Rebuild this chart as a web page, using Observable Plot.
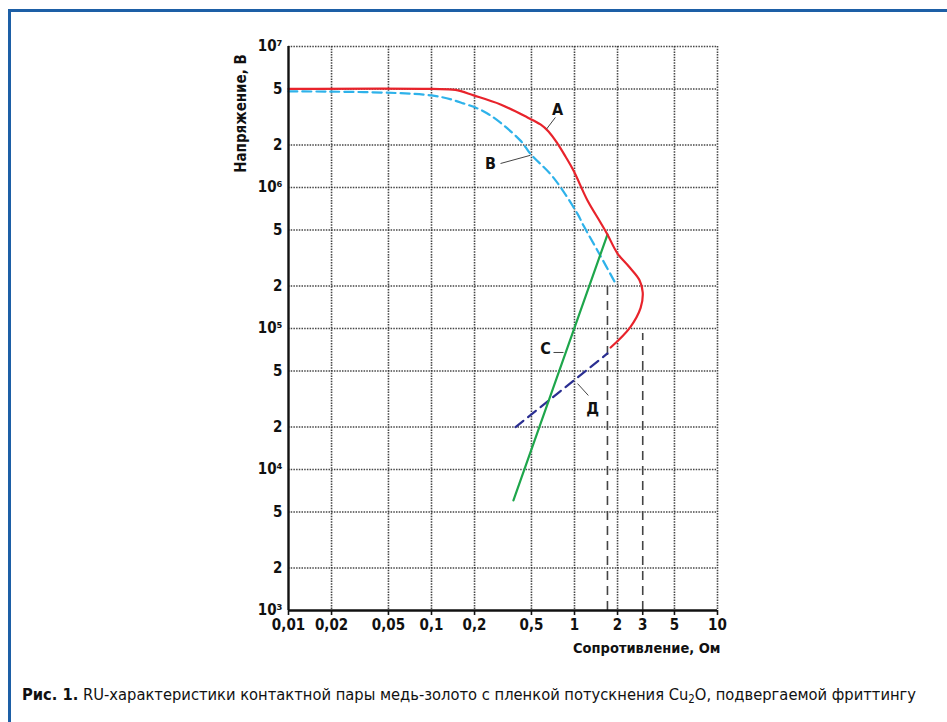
<!DOCTYPE html>
<html>
<head>
<meta charset="utf-8">
<script src="https://cdn.jsdelivr.net/npm/d3@7"></script>
<script src="https://cdn.jsdelivr.net/npm/@observablehq/plot@0.6"></script>
<style>
  html, body { margin: 0; padding: 0; background: #fff; }
  #wrap { position: relative; width: 947px; height: 722px; overflow: hidden; background: #fff; }
  #frameTop { position: absolute; left: 8px; top: 9px; width: 939px; height: 3px; background: #1d5fa6; }
  #frameLeft { position: absolute; left: 8px; top: 9px; width: 3px; height: 713px; background: #1d5fa6; }
  #chart { position: absolute; left: 0; top: 0; }
  #caption { position: absolute; left: 22px; top: 683px; white-space: nowrap;
    font-family: "Liberation Sans Narrow", "DejaVu Sans Condensed", "Roboto Condensed", "Open Sans", sans-serif;
    font-size: 17px; color: #111; }
  #caption b { font-weight: 700; }
</style>
</head>
<body>
<div id="wrap">
  <div id="frameTop"></div>
  <div id="frameLeft"></div>
  <div id="chart"></div>
  <div id="caption"><b>Рис. 1.</b> RU-характеристики контактной пары медь-золото с пленкой потускнения Cu<sub style="font-size:0.7em;vertical-align:-0.25em">2</sub>O, подвергаемой фриттингу</div>
</div>
<script>
// ---- axis ticks ----
const xTicks = [0.01, 0.02, 0.05, 0.1, 0.2, 0.5, 1, 2, 3, 5, 10];
const xTickLabels = ["0,01", "0,02", "0,05", "0,1", "0,2", "0,5", "1", "2", "3", "5", "10"];
const xGrid = [0.02, 0.05, 0.1, 0.2, 0.5, 1, 2, 5, 10];
const yTicks = [1e3, 2e3, 5e3, 1e4, 2e4, 5e4, 1e5, 2e5, 5e5, 1e6, 2e6, 5e6, 1e7];
const yTickLabels = ["10³", "2", "5", "10⁴", "2", "5", "10⁵", "2", "5", "10⁶", "2", "5", "10⁷"];
const yGrid = [2e3, 5e3, 1e4, 2e4, 5e4, 1e5, 2e5, 5e5, 1e6, 2e6, 5e6, 1e7];

// ---- curve A (red) ----
const aR = [0.01, 0.1, 0.147, 0.197, 0.304, 0.469, 0.578, 0.658, 0.761, 0.865, 0.984, 1.233, 1.52, 1.70, 2.0, 2.4, 2.85, 3.0, 2.9, 2.45, 1.79];
const aU = [5e6, 5e6, 4.92e6, 4.5e6, 3.88e6, 3.14e6, 2.8e6, 2.5e6, 2.05e6, 1.66e6, 1.32e6, 8.09e5, 5.65e5, 4.64e5, 3.4e5, 2.75e5, 2.2e5, 1.8e5, 1.4e5, 1.02e5, 7.33e4];
// ---- curve B (light blue, dashed) ----
const bR = [0.01, 0.1, 0.167, 0.246, 0.419, 0.49, 0.71, 1.05, 1.156, 1.5, 1.94];
const bU = [4.8e6, 4.5e6, 3.95e6, 3.35e6, 2.15e6, 1.74e6, 1.18e6, 6.5e5, 5.37e5, 3.35e5, 2.08e5];
// ---- curve C (green) ----
const cR = [0.374, 1.70];
const cU = [6.03e3, 4.64e5];
// ---- curve Д (dark blue, dashed) ----
const dR = [0.387, 1.70];
const dU = [2.0e4, 6.65e4];
// ---- vertical dashed marker lines ----
const markR = [1.70, 3.0];
const markTopU = [2.12e5, 9.2e4];

// ---- curve labels & leaders ----
const labelText = ["А", "В", "С", "Д"];
const labelR = [0.761, 0.259, 0.627, 1.34];
const labelU = [3.57e6, 1.48e6, 7.2e4, 2.71e4];
const leaderR1 = [0.735, 0.304, 0.713, 1.25];
const leaderU1 = [3.14e6, 1.48e6, 6.76e4, 3.35e4];
const leaderR2 = [0.638, 0.49, 0.838, 1.05];
const leaderU2 = [2.6e6, 1.69e6, 6.76e4, 4.07e4];

const pts = (xs, ys) => xs.map((x, i) => ({x, y: ys[i]}));
const A = pts(aR, aU), B = pts(bR, bU), C = pts(cR, cU), D = pts(dR, dU);
const marks = markR.map((x, i) => ({x, top: markTopU[i]}));
const labels = labelText.map((t, i) => ({t, x: labelR[i], y: labelU[i]}));
const leaders = labelText.map((t, i) => ({x1: leaderR1[i], y1: leaderU1[i], x2: leaderR2[i], y2: leaderU2[i]}));
const xTickData = xTicks.map((v, i) => ({v, t: xTickLabels[i]}));
const yTickData = yTicks.map((v, i) => ({v, t: yTickLabels[i]}));

const FONT = "'DejaVu Sans Condensed', 'DejaVu Sans', sans-serif";
const gridStyle = {stroke: "#333", strokeWidth: 1.6, strokeDasharray: "1.5,1.2", strokeOpacity: 0.9};

const chart = Plot.plot({
  width: 947,
  height: 665,
  marginLeft: 288,
  marginRight: 230,
  marginTop: 46,
  marginBottom: 55,
  x: {type: "log", domain: [0.01, 10], axis: null},
  y: {type: "log", domain: [1e3, 1e7], axis: null},
  style: {fontFamily: FONT, fontWeight: "bold", fontSize: "14px", color: "#111", background: "transparent"},
  marks: [
    Plot.ruleX(xGrid, gridStyle),
    Plot.ruleY(yGrid, gridStyle),
    Plot.ruleX(marks, {x: "x", y1: 1e3, y2: "top", stroke: "#444", strokeWidth: 1.6, strokeDasharray: "9,6"}),
    Plot.line(B, {x: "x", y: "y", stroke: "#2eb2ea", strokeWidth: 2.2, strokeDasharray: "9,5", curve: "catmull-rom"}),
    Plot.line(D, {x: "x", y: "y", stroke: "#2b2f92", strokeWidth: 2.2, strokeDasharray: "10,6"}),
    Plot.line(C, {x: "x", y: "y", stroke: "#1ea64b", strokeWidth: 2.2}),
    Plot.line(A, {x: "x", y: "y", stroke: "#e8232b", strokeWidth: 2.2, curve: "catmull-rom"}),
    Plot.link(leaders, {x1: "x1", y1: "y1", x2: "x2", y2: "y2", stroke: "#444", strokeWidth: 1}),
    Plot.text(labels, {x: "x", y: "y", text: "t", fontSize: 16, fontWeight: "bold", fill: "#111"}),
    Plot.ruleX([0.01], {stroke: "#111", strokeWidth: 2.4}),
    Plot.ruleY([1e3], {stroke: "#111", strokeWidth: 2.4}),
    Plot.ruleX(xTicks, {x: d => d, y1: 1e3, y2: 1e3, insetTop: 0, insetBottom: -5, stroke: "#111", strokeWidth: 1.6}),
    Plot.text(xTickData, {x: "v", text: "t", frameAnchor: "bottom", lineAnchor: "top", dy: 9, fontSize: 15, fontWeight: "bold", fill: "#111"}),
    Plot.text(yTickData, {y: "v", text: "t", frameAnchor: "left", textAnchor: "end", dx: -6, fontSize: 15, fontWeight: "bold", fill: "#111"}),
    Plot.text(["Сопротивление, Ом"], {frameAnchor: "bottom-right", dy: 38, dx: 3, textAnchor: "end", lineAnchor: "middle", fontSize: 14.5, fontWeight: "bold"}),
    Plot.text(["Напряжение, В"], {frameAnchor: "top-left", dx: -47, dy: 67, rotate: -90, textAnchor: "middle", lineAnchor: "middle", fontSize: 15, fontWeight: "bold"})
  ]
});
document.getElementById("chart").appendChild(chart);

// fit caption width to the reference span (22px -> 915px)
const cap = document.getElementById("caption");
const target = 893;
let fs = 17;
for (let k = 0; k < 4; k++) {
  const w = cap.getBoundingClientRect().width;
  if (w > 0) { fs = fs * target / w; cap.style.fontSize = fs + "px"; }
}
cap.style.top = (695 - cap.getBoundingClientRect().height / 2) + "px";
</script>
</body>
</html>
